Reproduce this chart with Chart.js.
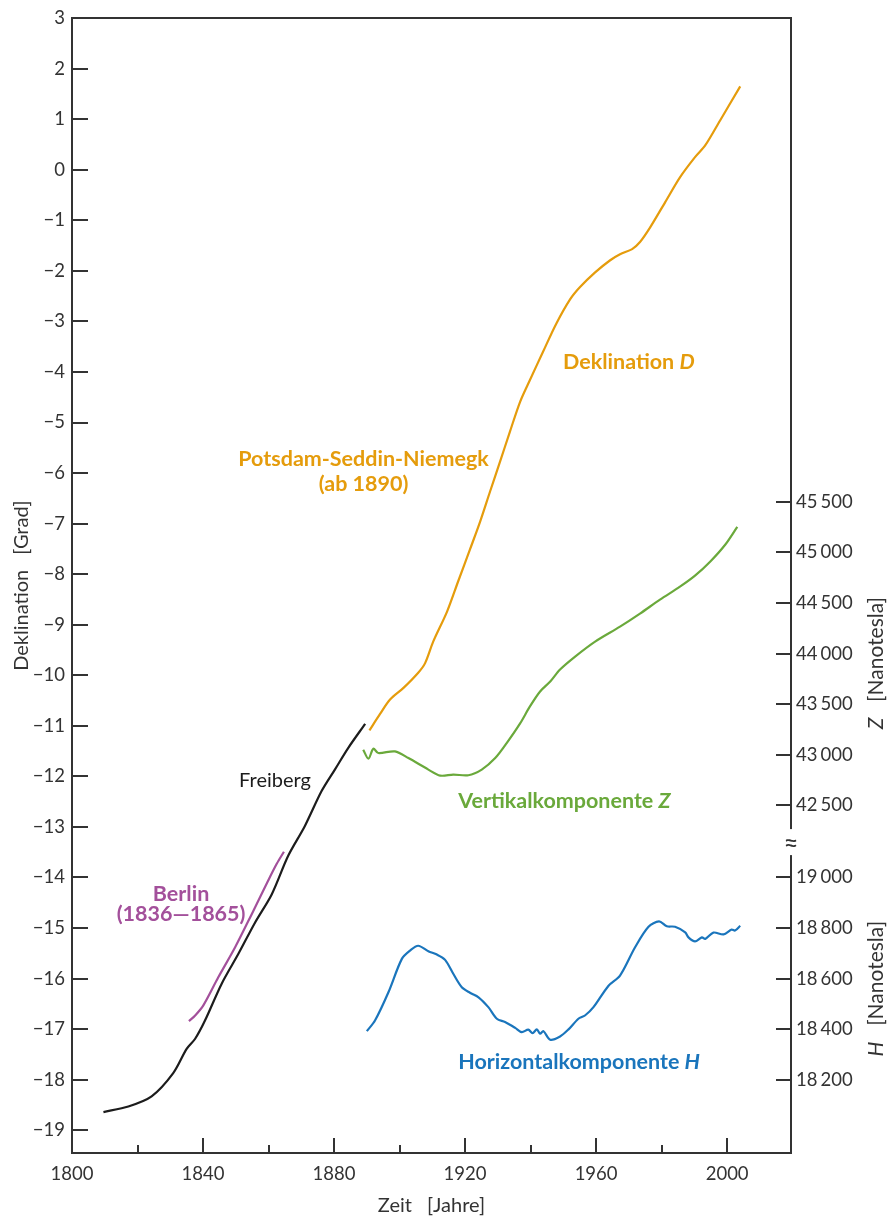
<!DOCTYPE html>
<html>
<head>
<meta charset="utf-8">
<script src="https://cdn.jsdelivr.net/npm/chart.js@4.4.1/dist/chart.umd.min.js"></script>
<style>
  html, body { margin: 0; padding: 0; background: #fff; }
</style>
</head>
<body>
<canvas id="chart" width="892" height="1218"></canvas>
<script>
// ========================
// DATA
// ========================
const freibergYears = [1809.6, 1817.2, 1824.3, 1830.9, 1835.0, 1837.6, 1840.6, 1845.7, 1850.8, 1855.9, 1861.0, 1866.0, 1871.1, 1876.2, 1880.3, 1884.4, 1889.5];
const freibergDecl = [-18.64, -18.53, -18.33, -17.87, -17.39, -17.19, -16.83, -16.10, -15.51, -14.89, -14.33, -13.57, -12.98, -12.29, -11.86, -11.43, -10.96];

const berlinYears = [1835.7, 1837.6, 1840.1, 1844.7, 1849.8, 1854.9, 1859.9, 1862.5, 1864.7];
const berlinDecl = [-16.84, -16.73, -16.53, -15.97, -15.38, -14.72, -14.06, -13.73, -13.49];

const potsdamYears = [1890.8, 1894.0, 1897.1, 1901.2, 1905.7, 1907.8, 1910.3, 1914.5, 1917.9, 1921.5, 1924.6, 1927.6, 1930.7, 1933.7, 1936.8, 1939.8, 1943.8, 1947.8, 1952.1, 1955.1, 1959.7, 1964.3, 1967.3, 1971.0, 1973.4, 1976.5, 1981.1, 1985.6, 1990.2, 1993.3, 1997.9, 2004.0];
const potsdamDecl = [-11.09, -10.77, -10.48, -10.25, -9.95, -9.76, -9.33, -8.74, -8.14, -7.51, -6.96, -6.37, -5.77, -5.18, -4.59, -4.16, -3.60, -3.05, -2.56, -2.32, -2.03, -1.79, -1.67, -1.57, -1.43, -1.14, -0.64, -0.15, 0.25, 0.48, 0.98, 1.65];

const zYears = [1888.9, 1890.5, 1892.0, 1893.5, 1898.6, 1902.7, 1908.8, 1912.4, 1916.4, 1921.0, 1925.1, 1929.2, 1932.7, 1936.8, 1939.8, 1942.9, 1946.0, 1949.0, 1953.6, 1959.7, 1967.3, 1973.4, 1979.5, 1985.6, 1990.2, 1994.8, 1999.4, 2003.1];
const zValues = [43049, 42960, 43059, 43016, 43032, 42966, 42852, 42793, 42803, 42796, 42852, 42966, 43114, 43309, 43477, 43625, 43723, 43842, 43970, 44118, 44266, 44395, 44533, 44661, 44770, 44908, 45076, 45253];

const hYears = [1890.0, 1892.5, 1896.6, 1900.7, 1903.2, 1905.7, 1908.8, 1911.4, 1913.9, 1916.4, 1919.0, 1921.5, 1924.1, 1927.1, 1929.7, 1932.2, 1935.3, 1937.3, 1939.3, 1940.6, 1941.9, 1942.9, 1943.9, 1946.0, 1949.0, 1951.5, 1954.6, 1956.6, 1959.2, 1963.8, 1967.3, 1971.9, 1976.0, 1979.2, 1981.6, 1984.1, 1987.2, 1988.2, 1990.2, 1992.3, 1993.3, 1995.8, 1998.9, 2001.4, 2002.4, 2004.0];
const hValues = [18392, 18434, 18546, 18678, 18711, 18730, 18708, 18695, 18674, 18619, 18566, 18544, 18526, 18487, 18441, 18428, 18405, 18388, 18398, 18384, 18399, 18382, 18392, 18358, 18371, 18398, 18441, 18454, 18487, 18572, 18612, 18724, 18805, 18826, 18807, 18805, 18783, 18763, 18747, 18763, 18757, 18782, 18775, 18794, 18790, 18809];

// tick labels
const xMajorTicks = [1800, 1840, 1880, 1920, 1960, 2000];
const xMinorTicks = [1820, 1860, 1900, 1940, 1980];
const declTicks = [3, 2, 1, 0, -1, -2, -3, -4, -5, -6, -7, -8, -9, -10, -11, -12, -13, -14, -15, -16, -17, -18, -19];
const zTicks = [42500, 43000, 43500, 44000, 44500, 45000, 45500];
const hTicks = [18200, 18400, 18600, 18800, 19000];

// ========================
// AXIS GEOMETRY
// ========================
const D_MIN = -19.45, D_MAX = 3;
const BREAK = -13.3;              // where the right axis switches from Z to H
const Z_REF = 45500, Z_AT = -6.57, Z_PER = 500;   // nT per degree step
const H_REF = 19000, H_AT = -14.0, H_PER = 200;

const AXIS = '#333333';
const ORANGE = '#E59C0C';
const GREEN = '#6AA93B';
const BLUE = '#1A75BC';
const PURPLE = '#A3509B';
const BLACK = '#1c1c1c';
const FONT = 'Lato';

function pts(xs, ys) {
  return xs.map((x, i) => ({ x: x, y: ys[i] }));
}

function fmtDecl(v) {
  return v < 0 ? '\u2212' + Math.abs(v) : String(v);
}

function fmtNano(v) {
  const k = Math.floor(v / 1000);
  const r = String(v % 1000).padStart(3, '0');
  return k + '\u2006' + r;
}

function line(label, data, color, axis) {
  return {
    label: label,
    data: data,
    yAxisID: axis,
    borderColor: color,
    borderWidth: 2.2,
    pointRadius: 0,
    tension: 0.3,
    fill: false
  };
}

// ========================
// TEXT HELPERS
// ========================
function drawParts(ctx, parts, x, y, align) {
  let total = 0;
  parts.forEach(p => { ctx.font = p.font; p.w = ctx.measureText(p.text).width; total += p.w; });
  let cx = align === 'center' ? x - total / 2 : (align === 'right' ? x - total : x);
  ctx.textAlign = 'left';
  ctx.textBaseline = 'middle';
  parts.forEach(p => {
    ctx.font = p.font;
    ctx.fillStyle = p.color;
    ctx.fillText(p.text, cx, y);
    cx += p.w;
  });
}

const B = 'bold 21.5px ' + FONT;
const BI = 'italic bold 21.5px ' + FONT;
const notes = [
  { year: 1949.9, value: -3.80, align: 'left', parts: [{ text: 'Deklination ', font: B, color: ORANGE }, { text: 'D', font: BI, color: ORANGE }] },
  { year: 1889.0, value: -5.73, align: 'center', parts: [{ text: 'Potsdam-Seddin-Niemegk', font: B, color: ORANGE }] },
  { year: 1889.0, value: -6.21, align: 'center', parts: [{ text: '(ab 1890)', font: B, color: ORANGE }] },
  { year: 1917.9, value: -12.49, align: 'left', parts: [{ text: 'Vertikalkomponente ', font: B, color: GREEN }, { text: 'Z', font: BI, color: GREEN }] },
  { year: 1917.9, value: -17.66, align: 'left', parts: [{ text: 'Horizontalkomponente ', font: B, color: BLUE }, { text: 'H', font: BI, color: BLUE }] },
  { year: 1851.0, value: -12.09, align: 'left', parts: [{ text: 'Freiberg', font: '20px ' + FONT, color: BLACK }] },
  { year: 1833.3, value: -14.32, align: 'center', parts: [{ text: 'Berlin', font: B, color: PURPLE }] },
  { year: 1833.3, value: -14.72, align: 'center', parts: [{ text: '(1836\u20141865)', font: B, color: PURPLE }] }
];

// ========================
// PLUGIN: frame, inward ticks, axis break, labels
// ========================
const decorations = {
  id: 'decorations',
  afterDatasetsDraw(chart) {
    const ctx = chart.ctx;
    const a = chart.chartArea;
    const sx = chart.scales.x, sy = chart.scales.y, sz = chart.scales.yZ, sh = chart.scales.yH;
    ctx.save();
    ctx.strokeStyle = AXIS;
    ctx.lineWidth = 2;

    // top frame line
    ctx.beginPath();
    ctx.moveTo(a.left - 1, a.top);
    ctx.lineTo(a.right + 1, a.top);
    ctx.stroke();

    // inward ticks
    ctx.beginPath();
    xMajorTicks.forEach(v => { const p = Math.round(sx.getPixelForValue(v)); ctx.moveTo(p, a.bottom); ctx.lineTo(p, a.bottom - 15); });
    xMinorTicks.forEach(v => { const p = Math.round(sx.getPixelForValue(v)); ctx.moveTo(p, a.bottom); ctx.lineTo(p, a.bottom - 8); });
    declTicks.forEach(v => { const p = Math.round(sy.getPixelForValue(v)); ctx.moveTo(a.left, p); ctx.lineTo(a.left + 16, p); });
    zTicks.forEach(v => { const p = Math.round(sz.getPixelForValue(v)); ctx.moveTo(a.right, p); ctx.lineTo(a.right - 15, p); });
    hTicks.forEach(v => { const p = Math.round(sh.getPixelForValue(v)); ctx.moveTo(a.right, p); ctx.lineTo(a.right - 15, p); });
    ctx.stroke();

    // axis break on the right side
    const yb = sy.getPixelForValue(BREAK);
    ctx.fillStyle = '#ffffff';
    ctx.fillRect(a.right - 4, yb - 13, 8, 26);
    ctx.fillStyle = AXIS;
    ctx.font = '26px ' + FONT;
    ctx.textAlign = 'center';
    ctx.textBaseline = 'middle';
    ctx.fillText('\u2248', a.right, yb + 2);

    // curve labels
    notes.forEach(n => drawParts(ctx, n.parts, sx.getPixelForValue(n.year), sy.getPixelForValue(n.value), n.align));

    // right axis titles
    const rt = [
      { letter: 'Z', center: sy.getPixelForValue(-9.76) },
      { letter: 'H', center: sy.getPixelForValue(-16.2) }
    ];
    rt.forEach(t => {
      ctx.save();
      ctx.translate(876, t.center);
      ctx.rotate(-Math.PI / 2);
      drawParts(ctx, [
        { text: t.letter, font: 'italic 21px ' + FONT, color: AXIS },
        { text: '\u2003[Nanotesla]', font: '21px ' + FONT, color: AXIS }
      ], 0, 0, 'center');
      ctx.restore();
    });
    ctx.restore();
  }
};

// ========================
// CHART
// ========================
const tickFont = { family: FONT, size: 18.5 };
const titleFont = { family: FONT, size: 20 };

new Chart(document.getElementById('chart'), {
  type: 'line',
  data: {
    datasets: [
      line('Freiberg', pts(freibergYears, freibergDecl), BLACK, 'y'),
      line('Berlin', pts(berlinYears, berlinDecl), PURPLE, 'y'),
      line('Potsdam-Seddin-Niemegk', pts(potsdamYears, potsdamDecl), ORANGE, 'y'),
      line('Vertikalkomponente Z', pts(zYears, zValues), GREEN, 'yZ'),
      line('Horizontalkomponente H', pts(hYears, hValues), BLUE, 'yH')
    ]
  },
  options: {
    responsive: false,
    animation: false,
    devicePixelRatio: 1,
    layout: { padding: { top: 15, left: 0, right: 0, bottom: 0 } },
    plugins: { legend: { display: false }, tooltip: { enabled: false } },
    scales: {
      x: {
        type: 'linear',
        position: 'bottom',
        min: 1800,
        max: 2019.5,
        afterFit: s => { s.height = 65; },
        afterBuildTicks: s => { s.ticks = xMajorTicks.map(v => ({ value: v })); },
        grid: { display: true, drawOnChartArea: false, drawTicks: false },
        border: { display: true, color: AXIS, width: 2 },
        ticks: { font: tickFont, color: AXIS, padding: 10, maxRotation: 0, callback: v => String(v) },
        title: { display: true, text: 'Zeit\u2003[Jahre]', color: AXIS, font: titleFont, padding: { top: 0, bottom: 0 } }
      },
      y: {
        type: 'linear',
        position: 'left',
        min: D_MIN,
        max: D_MAX,
        afterFit: s => { s.width = 72; },
        afterBuildTicks: s => { s.ticks = declTicks.map(v => ({ value: v })); },
        grid: { display: true, drawOnChartArea: false, drawTicks: false },
        border: { display: true, color: AXIS, width: 2 },
        ticks: { font: tickFont, color: AXIS, padding: 7, callback: v => fmtDecl(v) },
        title: { display: true, text: 'Deklination\u2003[Grad]', color: AXIS, font: titleFont, padding: { top: 10, bottom: 0 } }
      },
      yZ: {
        type: 'linear',
        position: 'right',
        stack: 'right',
        stackWeight: D_MAX - BREAK,
        min: Z_REF + (BREAK - Z_AT) * Z_PER,
        max: Z_REF + (D_MAX - Z_AT) * Z_PER,
        afterFit: s => { s.width = 101; },
        afterBuildTicks: s => { s.ticks = zTicks.map(v => ({ value: v })); },
        grid: { display: true, drawOnChartArea: false, drawTicks: false },
        border: { display: true, color: AXIS, width: 2 },
        ticks: { font: tickFont, color: AXIS, padding: 5, callback: v => fmtNano(v) }
      },
      yH: {
        type: 'linear',
        position: 'right',
        stack: 'right',
        stackWeight: BREAK - D_MIN,
        min: H_REF + (D_MIN - H_AT) * H_PER,
        max: H_REF + (BREAK - H_AT) * H_PER,
        afterFit: s => { s.width = 101; },
        afterBuildTicks: s => { s.ticks = hTicks.map(v => ({ value: v })); },
        grid: { display: true, drawOnChartArea: false, drawTicks: false },
        border: { display: true, color: AXIS, width: 2 },
        ticks: { font: tickFont, color: AXIS, padding: 5, callback: v => fmtNano(v) }
      }
    }
  },
  plugins: [decorations]
});
</script>
</body>
</html>
